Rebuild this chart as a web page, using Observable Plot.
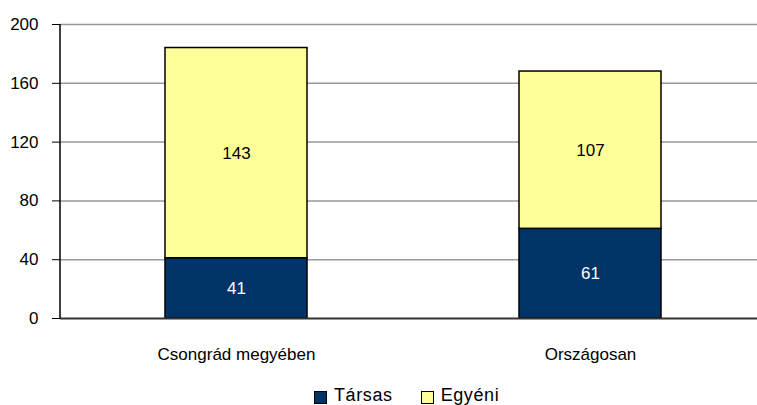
<!DOCTYPE html>
<html>
<head>
<meta charset="utf-8">
<script src="https://cdn.jsdelivr.net/npm/d3@7"></script>
<script src="https://cdn.jsdelivr.net/npm/@observablehq/plot@0.6"></script>
<style>
  html, body { margin: 0; padding: 0; background: #fff; }
  body { width: 757px; height: 405px; overflow: hidden; position: relative; font-family: "Liberation Sans", Arial, sans-serif; }
  #legend { position: absolute; left: 314px; top: 386px; height: 19px; display: flex; align-items: center; font-size: 18px; letter-spacing: 0.6px; line-height: 19px; color: #000; }
  .item { display: flex; align-items: center; }
  .sw { width: 11px; height: 11px; border: 1.5px solid #000; margin-right: 7px; margin-top: 3px; }
</style>
</head>
<body>
<div id="chart"></div>
<div id="legend"></div>
<script>
const categories = ["Csongrád megyében", "Országosan"];
const series = ["Társas", "Egyéni"];
const tarsas = [41, 61];
const egyeni = [143, 107];
const yTicks = [0, 40, 80, 120, 160, 200];
const colors = ["#003366", "#FFFF99"];

const data = [];
categories.forEach((c, i) => {
  data.push({cat: c, series: "Társas", value: tarsas[i], y1: 0, y2: tarsas[i]});
  data.push({cat: c, series: "Egyéni", value: egyeni[i], y1: tarsas[i], y2: tarsas[i] + egyeni[i]});
});

const chart = Plot.plot({
  width: 757,
  height: 380,
  marginLeft: 60,
  marginRight: 0,
  marginTop: 24,
  marginBottom: 62,
  style: {fontFamily: "'Liberation Sans', Arial, sans-serif", fontSize: "17px", background: "#fff", color: "#000"},
  x: {domain: categories, range: [59, 767], paddingInner: 0.6, paddingOuter: 0.3, label: null},
  y: {domain: [0, 200], ticks: yTicks, label: null},
  color: {domain: series, range: colors},
  marks: [
    Plot.ruleY(yTicks.filter(t => t > 0), {stroke: "#999", strokeWidth: 1.5}),
    Plot.barY(data, {x: "cat", y1: "y1", y2: "y2", fill: "series", stroke: "#000", strokeWidth: 1.5}),
    Plot.text(data.filter(d => d.series === "Társas"), {x: "cat", y: d => (d.y1 + d.y2) / 2, text: "value", fill: "white", fontSize: 17}),
    Plot.text(data.filter(d => d.series === "Egyéni"), {x: "cat", y: d => (d.y1 + d.y2) / 2, text: "value", fill: "black", fontSize: 17}),
    Plot.axisY({ticks: yTicks, tickSize: 8, tickPadding: 14, stroke: "#000", fontSize: 17}),
    Plot.ruleY([0], {stroke: "#333", strokeWidth: 2}),
    Plot.axisX({tickSize: 0, tickPadding: 29, fontSize: 17, style: {letterSpacing: "0.4px"}})
  ]
});
document.getElementById("chart").appendChild(chart);

// y axis vertical line
const svg = d3.select(chart);
svg.append("line")
  .attr("x1", 60).attr("x2", 60)
  .attr("y1", 24).attr("y2", 318)
  .attr("stroke", "#000").attr("stroke-width", 1.5);

const legend = document.getElementById("legend");
series.forEach((s, i) => {
  const it = document.createElement("div");
  it.className = "item";
  if (i > 0) it.style.marginLeft = "28px";
  const sw = document.createElement("div");
  sw.className = "sw";
  sw.style.background = colors[i];
  const t = document.createElement("span");
  t.textContent = s;
  it.appendChild(sw); it.appendChild(t);
  legend.appendChild(it);
});
</script>
</body>
</html>
